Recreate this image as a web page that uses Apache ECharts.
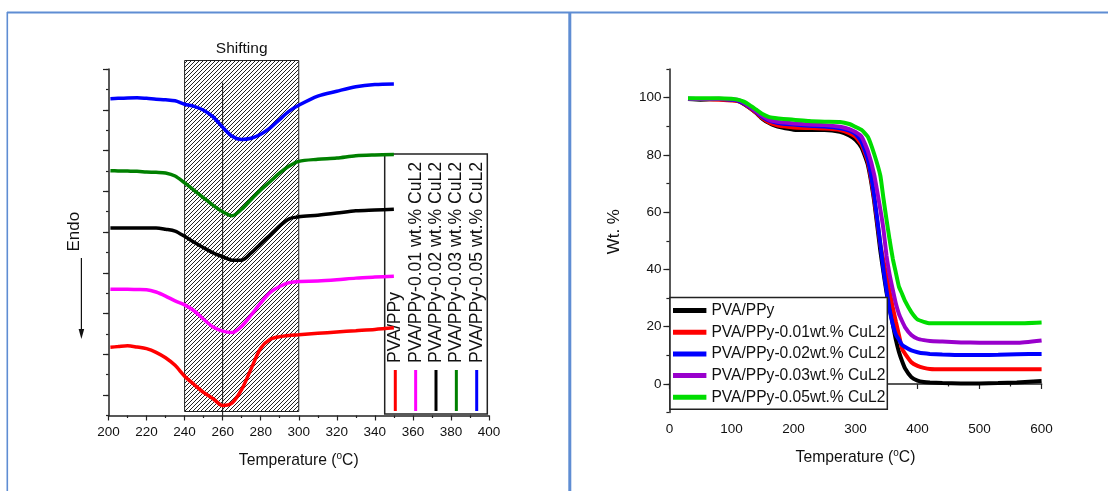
<!DOCTYPE html>
<html>
<head>
<meta charset="utf-8">
<title>DSC and TGA of PVA/PPy-CuL2 films</title>
<script src="https://cdn.jsdelivr.net/npm/echarts@6/dist/echarts.min.js"></script>
<style>
  html, body { margin: 0; padding: 0; background: #fff; }
  #chart { width: 1108px; height: 491px; }
</style>
</head>
<body>
<div id="chart"></div>
<script>
// ---------- DSC (left panel): heat flow curves, stacked offsets, arbitrary units ----------
const dscTemp = [201, 205, 210, 215, 220, 225, 230, 235, 240, 245, 250, 255, 260, 265,
                 270, 275, 280, 285, 290, 295, 300, 310, 320, 330, 340, 350];
const dscPure = [3.35, 3.38, 3.42, 3.36, 3.28, 3.10, 2.83, 2.46, 1.93, 1.52, 1.13, 0.82, 0.49, 0.62,
                 1.28, 2.30, 3.30, 3.74, 3.87, 3.93, 3.96, 4.03, 4.10, 4.16, 4.22, 4.30];
const dsc001 = [6.20, 6.19, 6.19, 6.18, 6.17, 6.06, 5.86, 5.62, 5.43, 5.14, 4.72, 4.34, 4.14, 4.07,
                4.38, 4.93, 5.52, 6.04, 6.33, 6.52, 6.58, 6.60, 6.66, 6.74, 6.79, 6.83];
const dsc002 = [9.20, 9.20, 9.20, 9.20, 9.20, 9.20, 9.14, 9.05, 8.79, 8.50, 8.23, 7.98, 7.79, 7.62,
                7.62, 7.98, 8.42, 8.86, 9.30, 9.65, 9.75, 9.83, 9.93, 10.04, 10.08, 10.12];
const dsc003 = [12.01, 12.00, 11.99, 11.98, 11.95, 11.93, 11.90, 11.75, 11.41, 11.05, 10.68, 10.31, 10.00, 9.80,
                10.12, 10.60, 11.07, 11.48, 11.90, 12.24, 12.47, 12.57, 12.63, 12.74, 12.78, 12.80];
const dsc005 = [15.54, 15.56, 15.58, 15.59, 15.56, 15.52, 15.49, 15.44, 15.27, 15.17, 14.98, 14.65, 14.14, 13.70,
                13.54, 13.60, 13.80, 14.11, 14.53, 14.93, 15.22, 15.67, 15.91, 16.13, 16.24, 16.27];
const dscNames = ['PVA/PPy', 'PVA/PPy-0.01 wt.% CuL2', 'PVA/PPy-0.02 wt.% CuL2',
                  'PVA/PPy-0.03 wt.% CuL2', 'PVA/PPy-0.05 wt.% CuL2'];
const dscColors = ['#ff0000', '#ff00ff', '#000000', '#008000', '#0000ff'];
const dscSeries = [dscPure, dsc001, dsc002, dsc003, dsc005];
const shiftBand = [240, 300];   // shaded shifting window, degC
const peakRef = 260;            // reference line, degC
const dscXTicks = [200, 400, 20];
const dscMajorTicks = [1, 3, 5, 7, 9, 11, 13, 15, 17];

// ---------- TGA (right panel): weight loss ----------
const tgaTemp = [30, 50, 80, 100, 110, 120, 130, 140, 150, 160, 170, 180, 200, 225, 250, 275, 290, 300,
                 310, 320, 330, 340, 345, 350, 355, 360, 365, 370, 375, 380, 390, 400, 410, 420,
                 440, 470, 500, 530, 560, 600];
const tgaPure = [99.5, 99.3, 99.5, 99.3, 99.0, 97.8, 96.3, 94.6, 92.6, 91.2, 90.2, 89.6, 88.8, 88.7, 88.7, 88.1, 86.8, 85.3,
                 82.5, 76.5, 64.0, 46.5, 39.1, 32.0, 26.5, 21.0, 15.5, 11.2, 8.0, 5.4, 2.4, 1.2, 0.7, 0.5,
                 0.3, 0.2, 0.2, 0.3, 0.5, 1.0];
const tga001 = [99.5, 99.5, 99.3, 99.0, 98.8, 97.9, 96.3, 94.7, 92.8, 91.4, 90.6, 90.1, 89.6, 89.4, 89.2, 88.7, 87.6, 86.3,
                83.5, 77.5, 65.0, 48.8, 43.1, 37.6, 32.2, 26.8, 21.8, 17.1, 12.3, 10.5, 7.6, 6.3, 5.6, 5.2,
                5.1, 5.1, 5.1, 5.1, 5.1, 5.1];
const tga002 = [99.6, 99.5, 99.5, 99.3, 99.0, 98.0, 96.6, 95.0, 93.3, 92.0, 91.4, 91.0, 90.6, 90.2, 89.9, 89.3, 88.5, 87.3,
                84.5, 78.5, 66.0, 49.0, 40.1, 32.8, 25.9, 20.9, 17.3, 15.5, 13.7, 12.9, 11.7, 11.1, 10.7, 10.5,
                10.3, 10.1, 10.1, 10.2, 10.4, 10.5];
const tga003 = [99.6, 99.5, 99.6, 99.4, 99.2, 98.3, 96.8, 95.2, 93.6, 92.3, 91.7, 91.4, 91.0, 90.6, 90.4, 89.8, 89.0, 88.0,
                86.3, 81.3, 73.2, 61.0, 54.1, 44.8, 38.2, 33.0, 28.1, 24.5, 22.0, 19.8, 17.1, 15.8, 15.3, 15.0,
                14.8, 14.5, 14.4, 14.4, 14.4, 15.2];
const tga005 = [99.8, 99.8, 99.8, 99.6, 99.3, 98.6, 97.3, 95.8, 94.3, 93.3, 92.9, 92.6, 92.3, 91.8, 91.6, 91.5, 90.8, 89.8,
                88.7, 86.3, 80.4, 72.8, 64.9, 57.4, 50.3, 43.9, 38.9, 34.0, 31.5, 28.9, 25.1, 22.5, 21.7, 21.2,
                21.2, 21.2, 21.2, 21.2, 21.2, 21.5];
const tgaNames = ['PVA/PPy', 'PVA/PPy-0.01wt.% CuL2', 'PVA/PPy-0.02wt.% CuL2',
                  'PVA/PPy-0.03wt.% CuL2', 'PVA/PPy-0.05wt.% CuL2'];
const tgaColors = ['#000000', '#ff0000', '#0000ff', '#9900cc', '#00dd00'];
const tgaSeries = [tgaPure, tga001, tga002, tga003, tga005];
const tgaXTicks = [0, 600, 100];
const tgaYRange = [-10, 110];
const tgaYLabels = [0, 20, 40, 60, 80, 100];

// ---------- styling ----------
const FONT = "'Liberation Sans', Arial, sans-serif";
const INK = '#111';
const AXIS = '#222';
const FRAME = '#5f8dd3';

// diagonal hatch tile for the shifting window
function hatchTile() {
  const s = 4;
  const c = document.createElement('canvas');
  c.width = s; c.height = s;
  const ctx = c.getContext('2d');
  ctx.strokeStyle = '#222';
  ctx.lineWidth = 1;
  ctx.beginPath();
  ctx.moveTo(0, s); ctx.lineTo(s, 0);
  ctx.moveTo(-1, 1); ctx.lineTo(1, -1);
  ctx.moveTo(s - 1, s + 1); ctx.lineTo(s + 1, s - 1);
  ctx.stroke();
  return c;
}
const hatch = hatchTile();

const axisLineStyle = { show: true, lineStyle: { color: AXIS, width: 1.5 } };
const tickLabel = { color: INK, fontSize: 13.5, fontFamily: FONT };
const tempName = 'Temperature ({sup|o}C)';
const tempNameStyle = {
  color: INK, fontSize: 15.7, fontFamily: FONT, lineHeight: 18,
  rich: { sup: { fontSize: 10, fontFamily: FONT, color: INK, verticalAlign: 'top', lineHeight: 18 } }
};

const zip = (xs, ys) => xs.map((x, i) => [x, ys[i]]);

const series = [];
// TGA curves (right grid) – listed first so the legend picks them up by name
tgaSeries.forEach((vals, i) => {
  series.push({
    type: 'line', name: tgaNames[i], xAxisIndex: 1, yAxisIndex: 2,
    data: zip(tgaTemp, vals), showSymbol: false, smooth: 0.15, z: 2,
    lineStyle: { color: tgaColors[i], width: 4 }, itemStyle: { color: tgaColors[i] }
  });
});
// DSC curves (left grid)
dscSeries.forEach((vals, i) => {
  series.push({
    type: 'line', name: dscNames[i] + ' (DSC)', xAxisIndex: 0, yAxisIndex: 0,
    data: zip(dscTemp, vals), showSymbol: false, smooth: 0.3, z: 3,
    lineStyle: { color: dscColors[i], width: 3.5 }, itemStyle: { color: dscColors[i] }
  });
});
// hatched shifting window with reference line
series.push({
  type: 'custom', xAxisIndex: 0, yAxisIndex: 0, z: 1, silent: true, clip: false,
  data: [[shiftBand[0], shiftBand[1], peakRef]],
  renderItem(params, api) {
    const cs = params.coordSys;
    const x0 = api.coord([api.value(0), 0])[0];
    const x1 = api.coord([api.value(1), 0])[0];
    const xp = api.coord([api.value(2), 0])[0];
    const top = cs.y - 8.5;
    const bottom = cs.y + cs.height - 4;
    return {
      type: 'group',
      children: [
        { type: 'rect', shape: { x: x0, y: top, width: x1 - x0, height: bottom - top },
          style: { fill: { image: hatch, repeat: 'repeat' }, stroke: AXIS, lineWidth: 1 } },
        { type: 'line', shape: { x1: xp, y1: cs.y + 13.5, x2: xp, y2: cs.y + cs.height },
          style: { stroke: INK, lineWidth: 1 } },
        { type: 'text', style: { text: 'Shifting', x: (x0 + x1) / 2, y: top - 12, align: 'center',
          verticalAlign: 'middle', fontSize: 15.5, fontFamily: FONT, fill: INK } }
      ]
    };
  }
});

// vertical legend of the DSC panel (rotated labels)
const dscLegend = [];
const legX0 = 395.3, legPitch = 20.35;
dscLegend.push({ type: 'rect', shape: { x: 384.7, y: 154, width: 102.6, height: 260 },
  style: { fill: '#fff', stroke: AXIS, lineWidth: 1.5 } });
dscNames.forEach((n, i) => {
  const x = legX0 + i * legPitch;
  dscLegend.push({ type: 'line', shape: { x1: x, y1: 370, x2: x, y2: 411 },
    style: { stroke: dscColors[i], lineWidth: 3 } });
  dscLegend.push({ type: 'text', x: x, y: 363, rotation: Math.PI / 2,
    style: { text: n, align: 'left', verticalAlign: 'middle', fontSize: 17.6, fontFamily: FONT, fill: INK } });
});

const option = {
  animation: false,
  backgroundColor: '#fff',
  grid: [
    { left: 108.5, top: 69, width: 380.5, height: 346.5 },
    { left: 669.4, top: 69, width: 372.2, height: 343.6 }
  ],
  xAxis: [
    { type: 'value', gridIndex: 0, min: dscXTicks[0], max: dscXTicks[1], interval: dscXTicks[2],
      axisLine: axisLineStyle, splitLine: { show: false },
      axisTick: { length: 5, lineStyle: { color: AXIS, width: 1.2 } },
      minorTick: { show: true, splitNumber: 2, length: 2.5, lineStyle: { color: AXIS, width: 1.2 } },
      axisLabel: Object.assign({ margin: 10 }, tickLabel),
      name: tempName, nameLocation: 'middle', nameGap: 36, nameTextStyle: tempNameStyle },
    { type: 'value', gridIndex: 1, min: tgaXTicks[0], max: tgaXTicks[1], interval: tgaXTicks[2],
      axisLine: axisLineStyle, splitLine: { show: false },
      axisTick: { length: 5, lineStyle: { color: AXIS, width: 1.2 } },
      minorTick: { show: true, splitNumber: 2, length: 2.5, lineStyle: { color: AXIS, width: 1.2 } },
      axisLabel: Object.assign({ margin: 10 }, tickLabel),
      name: tempName, nameLocation: 'middle', nameGap: 36, nameTextStyle: tempNameStyle }
  ],
  yAxis: [
    // DSC: short ticks every unit
    { type: 'value', gridIndex: 0, position: 'left', min: 0, max: 17, interval: 1,
      axisLine: axisLineStyle, splitLine: { show: false }, axisLabel: { show: false },
      axisTick: { length: 2.5, lineStyle: { color: AXIS, width: 1.2 } } },
    // DSC: long ticks
    { type: 'value', gridIndex: 0, position: 'left', offset: 0, min: 0, max: 17,
      axisLine: { show: false }, splitLine: { show: false }, axisLabel: { show: false },
      axisTick: { length: 5.5, customValues: dscMajorTicks, lineStyle: { color: AXIS, width: 1.2 } } },
    // TGA: labelled axis with short ticks every 10 %
    { type: 'value', gridIndex: 1, position: 'left', min: tgaYRange[0], max: tgaYRange[1], interval: 10,
      axisLine: axisLineStyle, splitLine: { show: false },
      axisTick: { length: 3, lineStyle: { color: AXIS, width: 1.2 } },
      axisLabel: Object.assign({ margin: 8, customValues: tgaYLabels,
        formatter: v => (tgaYLabels.indexOf(v) >= 0 ? String(v) : '') }, tickLabel) },
    // TGA: long ticks
    { type: 'value', gridIndex: 1, position: 'left', offset: 0, min: tgaYRange[0], max: tgaYRange[1],
      axisLine: { show: false }, splitLine: { show: false }, axisLabel: { show: false },
      axisTick: { length: 6, customValues: tgaYLabels, lineStyle: { color: AXIS, width: 1.2 } } }
  ],
  legend: {
    orient: 'vertical', left: 670, top: 297.5,
    data: tgaNames.map((n, i) => ({ name: n, itemStyle: { color: tgaColors[i] } })),
    icon: 'rect', itemWidth: 33.4, itemHeight: 5, itemGap: 5.7,
    backgroundColor: '#fff', borderColor: AXIS, borderWidth: 1.5, borderRadius: 0,
    padding: [5, 2, 4, 3],
    textStyle: { color: INK, fontSize: 15.6, fontFamily: FONT, lineHeight: 16 }
  },
  graphic: [
    // panel frames
    { type: 'line', z: 100, shape: { x1: 7, y1: 12.5, x2: 1108, y2: 12.5 }, style: { stroke: FRAME, lineWidth: 2 } },
    { type: 'line', z: 100, shape: { x1: 7.3, y1: 12, x2: 7.3, y2: 491 }, style: { stroke: FRAME, lineWidth: 1.6 } },
    { type: 'line', z: 100, shape: { x1: 569.8, y1: 12, x2: 569.8, y2: 491 }, style: { stroke: FRAME, lineWidth: 3 } },
    // DSC y-axis title with endothermic arrow
    { type: 'text', x: 74.6, y: 231.7, rotation: Math.PI / 2,
      style: { text: 'Endo', align: 'center', verticalAlign: 'middle', fontSize: 17, fontFamily: FONT, fill: INK } },
    { type: 'line', shape: { x1: 81.4, y1: 258, x2: 81.4, y2: 332 }, style: { stroke: INK, lineWidth: 1.2 } },
    { type: 'polygon', shape: { points: [[78.6, 329], [84.2, 329], [81.4, 339]] }, style: { fill: INK } },
    // TGA y-axis title
    { type: 'text', x: 614.2, y: 231.7, rotation: Math.PI / 2,
      style: { text: 'Wt. %', align: 'center', verticalAlign: 'middle', fontSize: 17, fontFamily: FONT, fill: INK } },
    { type: 'group', z: 10, children: dscLegend }
  ],
  series: series
};

const chart = echarts.init(document.getElementById('chart'), null, { renderer: 'canvas' });
chart.setOption(option);
</script>
</body>
</html>
